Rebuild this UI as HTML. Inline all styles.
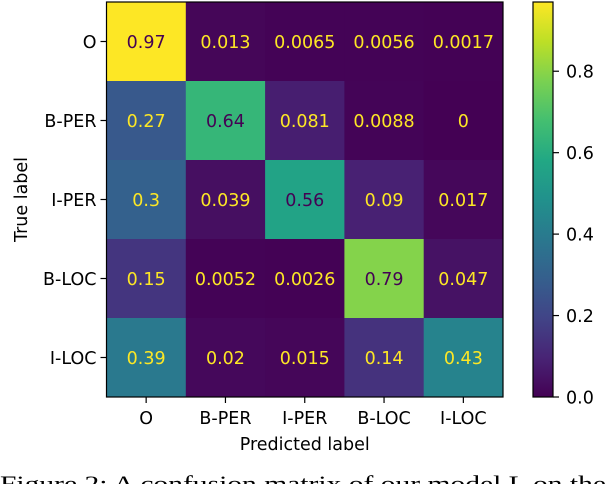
<!DOCTYPE html>
<html><head><meta charset="utf-8"><style>
html,body{margin:0;padding:0;background:#fff;width:606px;height:484px;overflow:hidden}
svg{display:block}
text{font-family:"DejaVu Sans","Liberation Sans",sans-serif}
</style></head><body>
<svg id="chart" width="606" height="484" viewBox="0 0 606 484" xmlns="http://www.w3.org/2000/svg">
<defs>
<linearGradient id="vir" x1="0" y1="1" x2="0" y2="0"></linearGradient>
</defs>
<g id="cells"></g>
<g id="axes"></g>
<g id="cbar"></g>
<text x="0" y="491" font-size="22" style="font-family:'Liberation Serif',serif" textLength="606" lengthAdjust="spacingAndGlyphs">Figure 2: A confusion matrix of our model L on the</text>
</svg>
<script>
const labels = ["O","B-PER","I-PER","B-LOC","I-LOC"];
const row0 = [0.97,0.013,0.0065,0.0056,0.0017];
const row1 = [0.27,0.64,0.081,0.0088,0];
const row2 = [0.3,0.039,0.56,0.09,0.017];
const row3 = [0.15,0.0052,0.0026,0.79,0.047];
const row4 = [0.39,0.02,0.015,0.14,0.43];
const matrix = [row0,row1,row2,row3,row4];
const cbarTicks = [0.0,0.2,0.4,0.6,0.8];
const printed = [["0.97","0.013","0.0065","0.0056","0.0017"],["0.27","0.64","0.081","0.0088","0"],["0.3","0.039","0.56","0.09","0.017"],["0.15","0.0052","0.0026","0.79","0.047"],["0.39","0.02","0.015","0.14","0.43"]];

const NS="http://www.w3.org/2000/svg";
const L=106.5,R=503,T=2,B=397;
const FS=17.5;
const vmin=0,vmax=Math.max(...matrix.flat());
const cw=(R-L)/labels.length, ch=(B-T)/labels.length;
const xc=i=>L+cw*(i+0.5), yc=i=>T+ch*(i+0.5);
const stops=[[0,"#440154"],[0.1,"#482475"],[0.2,"#414487"],[0.3,"#355f8d"],[0.4,"#2a788e"],[0.5,"#21918c"],[0.6,"#22a884"],[0.7,"#44bf70"],[0.8,"#7ad151"],[0.9,"#bddf26"],[1,"#fde725"]];
function hex(h){return [1,3,5].map(k=>parseInt(h.substr(k,2),16));}
function vir(t){t=Math.max(0,Math.min(1,t));for(let k=1;k<stops.length;k++){if(t<=stops[k][0]){const a=stops[k-1],b=stops[k];const f=(t-a[0])/(b[0]-a[0]);const ca=hex(a[1]),cb=hex(b[1]);return "rgb("+ca.map((c,j)=>Math.round(c+(cb[j]-c)*f)).join(",")+")";}}return stops[stops.length-1][1];}
function mk(tag,attrs,parent){const e=document.createElementNS(NS,tag);for(const k in attrs)e.setAttribute(k,attrs[k]);parent.appendChild(e);return e;}
const cells=document.getElementById('cells'),axes=document.getElementById('axes'),cbar=document.getElementById('cbar');
matrix.forEach((row,i)=>row.forEach((v,j)=>{
 const r=mk('rect',{x:L+cw*j,y:T+ch*i,width:cw+0.5,height:ch+0.5,fill:vir((v-vmin)/(vmax-vmin))},cells);
 
 
}));
matrix.forEach((row,i)=>row.forEach((v,j)=>{
 const t=mk('text',{x:xc(j),y:yc(i)+6.5,'text-anchor':'middle','font-size':FS,fill:v<(vmax+vmin)/2?"#fde725":"#440154"},cells);
 t.textContent=printed[i][j];
 
 
}));
const fr=mk('rect',{x:L,y:T,width:R-L,height:B-T,fill:'none',stroke:'#000','stroke-width':1.2},axes);


labels.forEach((lb,i)=>{
 mk('line',{x1:L-6,x2:L,y1:yc(i),y2:yc(i),stroke:'#000','stroke-width':1.2},axes);
 const ty=mk('text',{x:L-10,y:yc(i)+6.5,'text-anchor':'end','font-size':FS},axes);
 ty.textContent=lb;
 
 
 mk('line',{x1:xc(i),x2:xc(i),y1:B,y2:B+6,stroke:'#000','stroke-width':1.2},axes);
 const tx=mk('text',{x:xc(i),y:B+27,'text-anchor':'middle','font-size':FS},axes);
 tx.textContent=lb;
 
 
});
const xt=mk('text',{x:(L+R)/2,y:450,'text-anchor':'middle','font-size':FS},axes);
xt.textContent="Predicted label";


const yt=mk('text',{x:0,y:0,'text-anchor':'middle','font-size':FS,transform:'translate(27,'+((T+B)/2)+') rotate(-90)'},axes);
yt.textContent="True label";


const CL=533,CR=553;
const cy=v=>B-(v-vmin)/(vmax-vmin)*(B-T);
const grad=document.getElementById('vir');
stops.forEach(s=>mk('stop',{offset:s[0],'stop-color':s[1]},grad));
const cr=mk('rect',{x:CL,y:T,width:CR-CL,height:B-T,fill:'url(#vir)',stroke:'#000','stroke-width':1.2},cbar);


cbarTicks.forEach(v=>{
 mk('line',{x1:CR,x2:CR+6,y1:cy(v),y2:cy(v),stroke:'#000','stroke-width':1.2},cbar);
 const t=mk('text',{x:CR+13,y:cy(v)+6.5,'font-size':FS},cbar);
 t.textContent=v.toFixed(1);
 
 
});
</script>
</body></html>
